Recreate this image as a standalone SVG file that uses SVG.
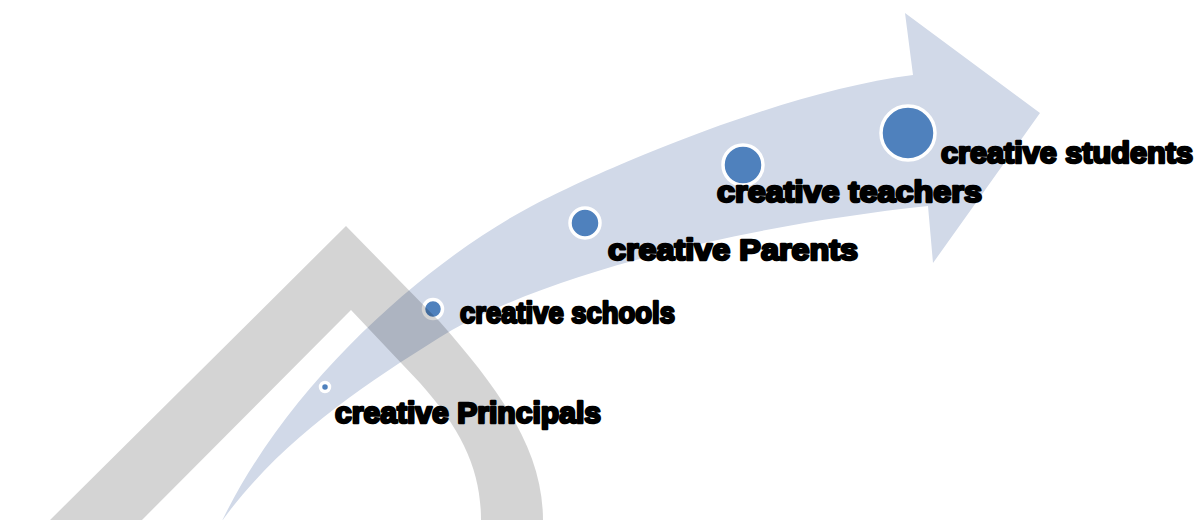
<svg xmlns="http://www.w3.org/2000/svg" width="1201" height="520" viewBox="0 0 1201 520">
  <style>
    .lbl { font-family: "Liberation Sans", Arial, sans-serif; font-weight: 900; font-size: 30px; fill: #000; stroke: #000; stroke-width: 2.5px; stroke-linejoin: round; }
    .dot { fill: #4f81bd; stroke: #ffffff; stroke-width: 3.5; }
  </style>
  <rect width="1201" height="520" fill="#ffffff"/>
  <g id="connectors">
    <path id="arrow" fill="#d1d9e8" d="M 222,521 C 290,380 430,260 530,207 C 600,170 780,92 913,75 L 905,13 L 1040,113 L 933,263 L 928,206 C 750,225 560,270 452,330 C 370,380 280,440 222,521 Z"/>
  </g>
  <g id="node-principals">
    <circle class="dot" cx="325" cy="387" r="4.5"/>
  </g>
  <g id="node-schools">
    <circle class="dot" cx="433" cy="309" r="9.5"/>
  </g>
  <g id="node-parents">
    <circle class="dot" cx="585" cy="223" r="15"/>
  </g>
  <g id="node-teachers">
    <circle class="dot" cx="743" cy="165" r="20"/>
  </g>
  <g id="node-students">
    <circle class="dot" cx="908" cy="133" r="27"/>
  </g>
  <path id="watermark" fill="#000" fill-opacity="0.17" d="M 50,520 L 346,226 L 440,322 C 500,390 543,450 543,520 L 481,520 C 481,470 462,430 420,383 L 351,310 L 142,520 Z"/>
  <g id="labels">
    <text class="lbl" x="335" y="423" textLength="266" lengthAdjust="spacingAndGlyphs">creative Principals</text>
    <text class="lbl" x="460" y="323" textLength="215" lengthAdjust="spacingAndGlyphs">creative schools</text>
    <text class="lbl" x="608" y="260" textLength="250" lengthAdjust="spacingAndGlyphs">creative Parents</text>
    <text class="lbl" x="717" y="202" textLength="265" lengthAdjust="spacingAndGlyphs">creative teachers</text>
    <text class="lbl" x="941" y="163" textLength="252" lengthAdjust="spacingAndGlyphs">creative students</text>
  </g>
</svg>
